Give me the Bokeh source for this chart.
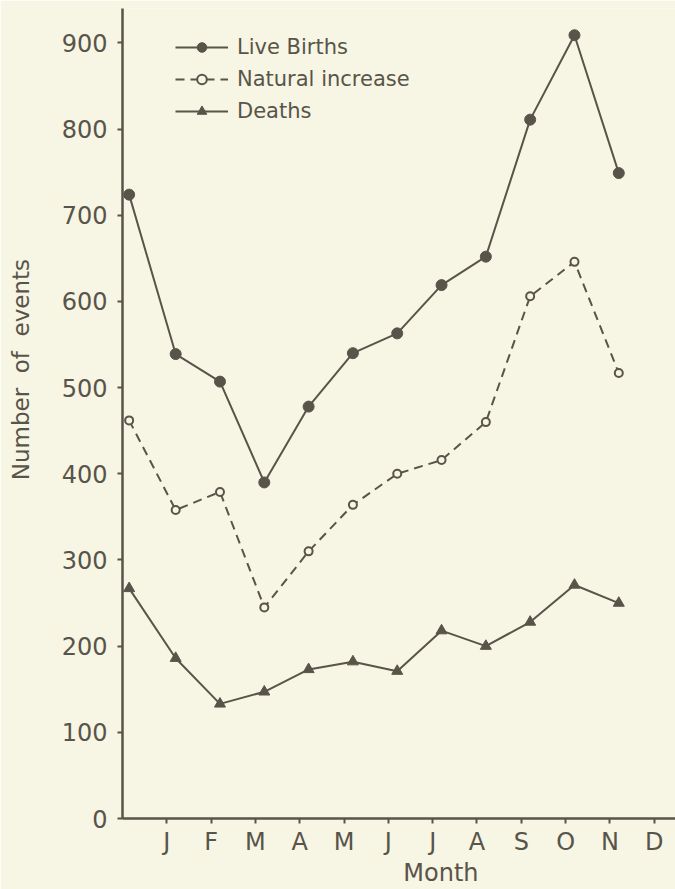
from bokeh.plotting import figure
from bokeh.models import Legend, LegendItem, Range1d, FixedTicker
from bokeh.embed import file_html
from bokeh.resources import INLINE

# ---- data ----
month_labels = ["J", "F", "M", "A", "M", "J", "J", "A", "S", "O", "N", "D"]
month_ticks = [1, 2, 3, 4, 5, 6, 7, 8, 9, 10, 11, 12]
point_pos = [0.15, 1.2, 2.2, 3.2, 4.2, 5.2, 6.2, 7.2, 8.2, 9.2, 10.2, 11.2]
live_births = [724, 539, 507, 390, 478, 540, 563, 619, 652, 811, 909, 749]
natural_increase = [462, 358, 379, 245, 310, 364, 400, 416, 460, 606, 646, 517]
deaths = [267, 186, 133, 147, 173, 182, 171, 218, 200, 228, 271, 250]
y_ticks = [0, 100, 200, 300, 400, 500, 600, 700, 800, 900]

BG = "#f7f5e3"
INK = "#58544a"
FONT = "DejaVu Sans"
NB = "\u00a0"

p = figure(width=675, height=889, output_backend="svg", toolbar_location=None,
           x_range=Range1d(0, 12.48), y_range=Range1d(0, 940),
           min_border_left=122, min_border_bottom=69, min_border_top=8,
           min_border_right=0)
p.background_fill_color = BG
p.border_fill_color = BG
p.outline_line_color = None
p.grid.visible = False

# axes
p.xaxis.ticker = FixedTicker(ticks=month_ticks)
p.xaxis.major_label_overrides = {t: l for t, l in zip(month_ticks, month_labels)}
p.yaxis.ticker = FixedTicker(ticks=y_ticks)
for ax in (p.xaxis[0], p.yaxis[0]):
    ax.axis_line_color = INK
    ax.axis_line_width = 2.5
    ax.major_tick_line_color = INK
    ax.major_tick_line_width = 2
    ax.major_tick_out = 5
    ax.major_tick_in = 0
    ax.minor_tick_line_color = None
    ax.major_label_text_color = INK
    ax.major_label_text_font = FONT
    ax.major_label_text_font_size = "24px"
    ax.axis_label_text_color = INK
    ax.axis_label_text_font = FONT
    ax.axis_label_text_font_style = "normal"
p.xaxis.axis_label = NB * 11 + "Month"
p.yaxis.axis_label = NB * 12 + "Number" + NB * 2 + "of" + NB * 2 + "events"
p.xaxis.axis_label_text_font_size = "24px"
p.yaxis.axis_label_text_font_size = "23px"
p.xaxis.major_label_standoff = 4
p.yaxis.major_label_standoff = 10
p.xaxis.axis_label_standoff = 0
p.yaxis.axis_label_standoff = 25

# series
l1 = p.line(point_pos, live_births, line_color=INK, line_width=2)
s1 = p.scatter(point_pos, live_births, marker="circle", size=11,
               fill_color=INK, line_color=INK)
l2 = p.line(point_pos, natural_increase, line_color=INK, line_width=2,
            line_dash="9 6")
s2 = p.scatter(point_pos, natural_increase, marker="circle", size=8,
               fill_color=BG, line_color=INK, line_width=2)
l3 = p.line(point_pos, deaths, line_color=INK, line_width=2)
s3 = p.scatter(point_pos, deaths, marker="triangle", size=11,
               fill_color=INK, line_color=INK)

legend = Legend(items=[
    LegendItem(label="Live Births", renderers=[l1, s1]),
    LegendItem(label="Natural increase", renderers=[l2, s2]),
    LegendItem(label="Deaths", renderers=[l3, s3]),
], location=(49, 691))
legend.background_fill_alpha = 0
legend.border_line_alpha = 0
legend.label_text_font = FONT
legend.label_text_font_size = "21px"
legend.label_text_color = INK
legend.glyph_width = 53
legend.glyph_height = 24
legend.label_standoff = 9
legend.spacing = 8
legend.padding = 4
p.add_layout(legend)

open("out.html", "w").write(file_html(p, INLINE))
